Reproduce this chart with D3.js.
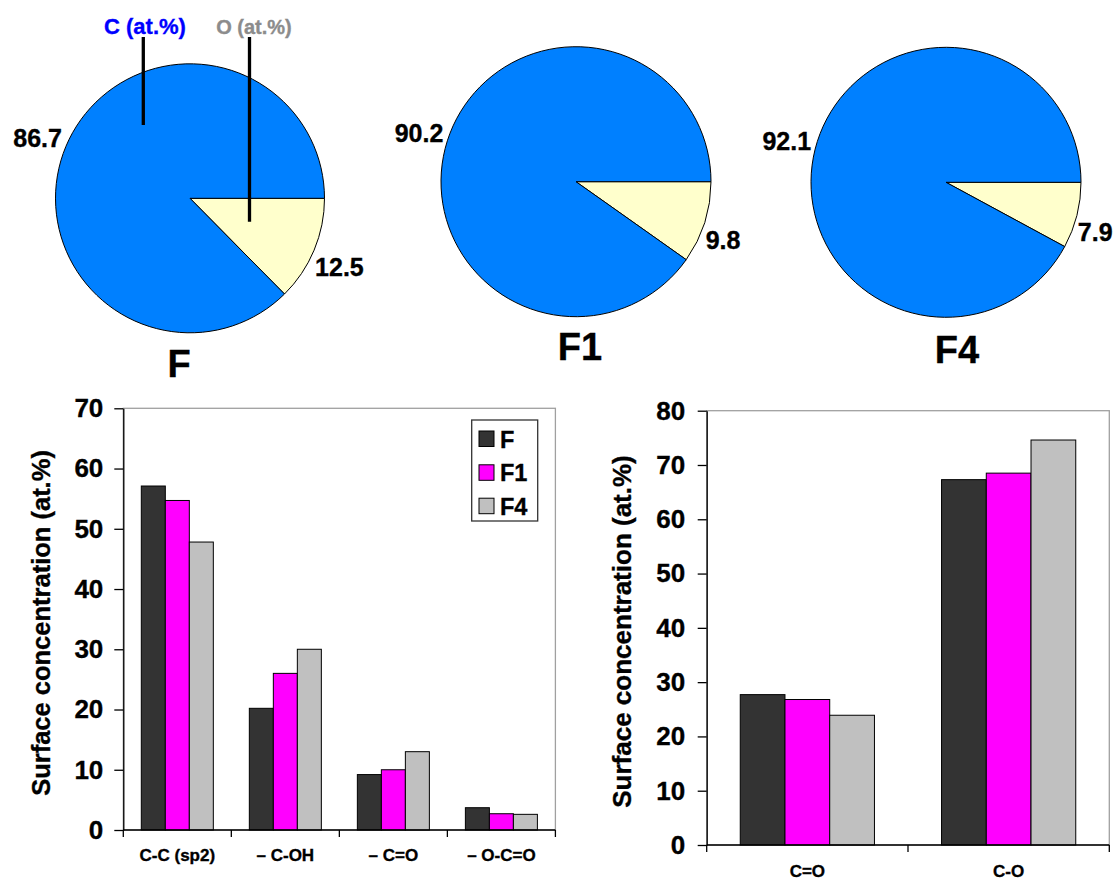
<!DOCTYPE html>
<html><head><meta charset="utf-8">
<script src="https://cdn.jsdelivr.net/npm/d3@7"></script>
<style>
html,body{margin:0;padding:0;background:#fff;}
svg{display:block;}
text{font-family:"Liberation Sans",Arial,sans-serif;font-weight:bold;stroke-width:0.35px;}
</style></head>
<body>
<svg id="chart" width="1116" height="879"></svg>
<script>
// ---------- DATA ----------
const pieSamples = ["F", "F1", "F4"];
const pieCategories = ["C (at.%)", "O (at.%)"];
const pieC = [86.7, 90.2, 92.1];
const pieO = [12.5, 9.8, 7.9];

const seriesNames = ["F", "F1", "F4"];
const leftGroups = ["C-C (sp2)", "– C-OH", "– C=O", "– O-C=O"];
const leftF  = [57.1, 20.2, 9.2, 3.7];
const leftF1 = [54.7, 26.0, 10.0, 2.7];
const leftF4 = [47.8, 30.0, 13.0, 2.6];
const leftTicks = [0, 10, 20, 30, 40, 50, 60, 70];

const rightGroups = ["C=O", "C-O"];
const rightF  = [27.7, 67.3];
const rightF1 = [26.8, 68.5];
const rightF4 = [23.9, 74.6];
const rightTicks = [0, 10, 20, 30, 40, 50, 60, 70, 80];

const yTitle = "Surface concentration (at.%)";

// ---------- STYLE ----------
const sliceColors = {"C (at.%)": "#0080FF", "O (at.%)": "#FFFFCC"};
const seriesColors = {"F": "#333333", "F1": "#FF00FF", "F4": "#C0C0C0"};

const svg = d3.select("#chart");
svg.append("rect").attr("width", 1116).attr("height", 879).attr("fill", "#fff");

function txt(sel, color) { return sel.attr("fill", color).attr("stroke", color); }

// ---------- PIES ----------
const pieLayout = [
  {cx: 190, cy: 198.3, r: 134.5, tx: 179, ty: 376.5},
  {cx: 576, cy: 181.7, r: 135, tx: 580, ty: 360},
  {cx: 946, cy: 182.3, r: 135, tx: 957, ty: 362.5}
];
const pie = d3.pie().sort(null).value(d => d.v);
const arc = d3.arc().innerRadius(0);

pieSamples.forEach((s, i) => {
  const L = pieLayout[i];
  const data = [{k: pieCategories[1], v: pieO[i]}, {k: pieCategories[0], v: pieC[i]}];
  const arcs = pie.startAngle(Math.PI / 2).endAngle(Math.PI / 2 + 2 * Math.PI)(data);
  const g = svg.append("g").attr("transform", `translate(${L.cx},${L.cy})`);
  g.selectAll("path").data(arcs).join("path")
    .attr("d", d => arc.outerRadius(L.r)(d))
    .attr("fill", d => sliceColors[d.data.k])
    .attr("stroke", "#000").attr("stroke-width", 1);
  arcs.forEach(d => {
    const a = (d.startAngle + d.endAngle) / 2;
    const px = L.r * Math.sin(a), py = -L.r * Math.cos(a);
    const right = Math.sin(a) > 0;
    const upper = Math.cos(a) > 0;
    txt(g.append("text")
      .attr("x", right ? px + 1 : px - 4)
      .attr("y", upper ? py + 1 : py + 26)
      .attr("text-anchor", right ? "start" : "end")
      .attr("font-size", 25), "#000")
      .text(d.data.v.toFixed(1));
  });
  txt(svg.append("text").attr("x", L.tx).attr("y", L.ty)
    .attr("text-anchor", "middle").attr("font-size", 38), "#000").text(s);
});

// category callouts on first pie
txt(svg.append("text").attr("x", 145).attr("y", 33.5).attr("text-anchor", "middle")
  .attr("font-size", 22), "#0000FF").text(pieCategories[0]);
txt(svg.append("text").attr("x", 254).attr("y", 33.5).attr("text-anchor", "middle")
  .attr("font-size", 20), "#8C8C8C").text(pieCategories[1]);
svg.append("line").attr("x1", 143.3).attr("x2", 143.3).attr("y1", 37).attr("y2", 125)
  .attr("stroke", "#000").attr("stroke-width", 3.3);
svg.append("line").attr("x1", 249.5).attr("x2", 249.5).attr("y1", 37).attr("y2", 221.7)
  .attr("stroke", "#000").attr("stroke-width", 3.3);

// ---------- BAR CHARTS ----------
function barChart(opt) {
  const {groups, series, x0r, y0, yTop, ymax, ticks, tickFont, tickPad, labelFont, labelY, titleX, titleY, titleSize} = opt;
  const x0 = d3.scaleBand().domain(groups).range(x0r).paddingInner(1 / 3).paddingOuter(1 / 6);
  const x1 = d3.scaleBand().domain(seriesNames).range([0, x0.bandwidth()]);
  const y = d3.scaleLinear().domain([0, ymax]).range([y0, yTop]);
  const g = svg.append("g");
  // plot area border
  g.append("rect").attr("x", x0r[0]).attr("y", yTop)
    .attr("width", x0r[1] - x0r[0]).attr("height", y0 - yTop)
    .attr("fill", "none").attr("stroke", "#A0A0A0").attr("stroke-width", 1.3);
  // bars
  groups.forEach((grp, gi) => {
    series.forEach((vals, si) => {
      const name = seriesNames[si];
      g.append("rect")
        .attr("x", x0(grp) + x1(name))
        .attr("y", y(vals[gi]))
        .attr("width", x1.bandwidth())
        .attr("height", y(0) - y(vals[gi]))
        .attr("fill", seriesColors[name])
        .attr("stroke", "#000").attr("stroke-width", 1);
    });
  });
  // y axis
  const ya = g.append("g").attr("transform", `translate(${x0r[0]},0)`)
    .call(d3.axisLeft(y).tickValues(ticks).tickSize(9).tickSizeOuter(0).tickPadding(tickPad).tickFormat(d3.format("d")));
  ya.selectAll("text").attr("font-size", tickFont).attr("fill", "#000").attr("stroke", "#000")
    .attr("font-family", "'Liberation Sans',Arial,sans-serif").attr("font-weight", "bold");
  ya.selectAll("line,path").attr("stroke", "#000").attr("stroke-width", 1.3);
  // x axis line + boundary ticks
  const half = (x0.step() - x0.bandwidth()) / 2;
  const bounds = groups.map(gname => x0(gname) - half).concat([x0(groups[groups.length - 1]) + x0.bandwidth() + half]);
  g.append("line").attr("x1", x0r[0]).attr("x2", x0r[1]).attr("y1", y0).attr("y2", y0)
    .attr("stroke", "#000").attr("stroke-width", 1.3);
  g.selectAll(".bt").data(bounds).join("line")
    .attr("x1", d => d).attr("x2", d => d).attr("y1", y0).attr("y2", y0 + 7)
    .attr("stroke", "#000").attr("stroke-width", 1.3);
  g.selectAll(".xl").data(groups).join("text")
    .attr("x", d => x0(d) + x0.bandwidth() / 2).attr("y", labelY)
    .attr("text-anchor", "middle").attr("font-size", labelFont)
    .attr("fill", "#000").attr("stroke", "#000").text(d => d);
  // y title
  txt(g.append("text").attr("transform", `translate(${titleX},${titleY}) rotate(-90)`)
    .attr("text-anchor", "middle").attr("font-size", titleSize), "#000").text(yTitle);
  return {x0, x1, y};
}

barChart({groups: leftGroups, series: [leftF, leftF1, leftF4], x0r: [123.3, 555.4], y0: 830, yTop: 408.3,
  ymax: 70, ticks: leftTicks, tickFont: 26, tickPad: 11, labelFont: 17, labelY: 861, titleX: 50, titleY: 623, titleSize: 25.5});

barChart({groups: rightGroups, series: [rightF, rightF1, rightF4], x0r: [706.7, 1109.3], y0: 845, yTop: 410.7,
  ymax: 80, ticks: rightTicks, tickFont: 26, tickPad: 12.5, labelFont: 17, labelY: 876.5, titleX: 631, titleY: 631.5, titleSize: 26});

// legend (left chart)
const lg = svg.append("g");
lg.append("rect").attr("x", 471.7).attr("y", 420).attr("width", 66).attr("height", 101)
  .attr("fill", "#fff").attr("stroke", "#333").attr("stroke-width", 1.3);
const legY = [431, 464.8, 498.2];
seriesNames.forEach((n, i) => {
  lg.append("rect").attr("x", 479).attr("y", legY[i]).attr("width", 15).attr("height", 15.5)
    .attr("fill", seriesColors[n]).attr("stroke", "#000").attr("stroke-width", 1);
  txt(lg.append("text").attr("x", 500).attr("y", legY[i] + 16.5).attr("font-size", 23.5), "#000").text(n);
});
</script>
</body></html>
